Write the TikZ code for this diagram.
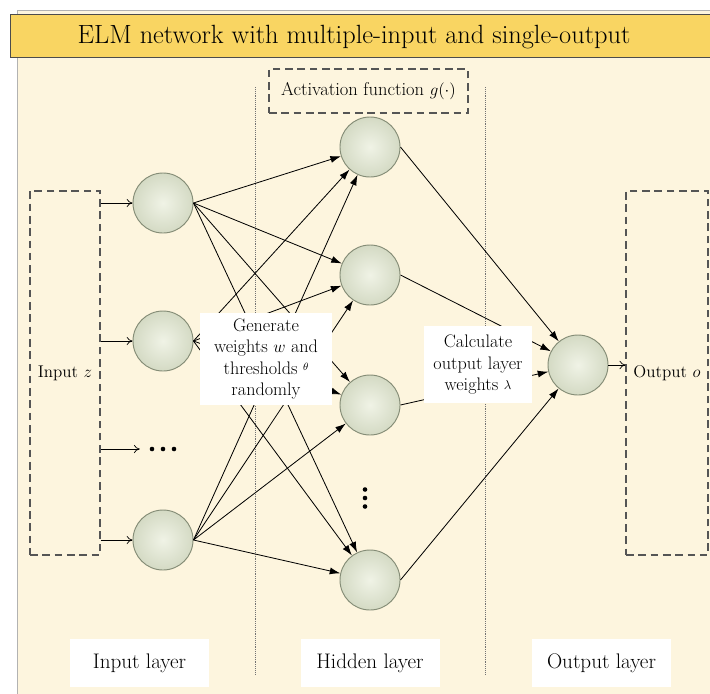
\documentclass[tikz,border=0pt]{standalone}
\usepackage{amsmath}
\usepackage{amssymb}
\usepackage{tikz}
\usetikzlibrary{calc}
\usetikzlibrary{shapes}
\usetikzlibrary{arrows.meta}

\definecolor{panel}{RGB}{253,245,222}
\definecolor{titlebar}{RGB}{249,213,98}
\definecolor{cellin}{RGB}{240,243,230}
\definecolor{cellout}{RGB}{212,218,196}
\definecolor{cellrim}{RGB}{132,140,118}
\definecolor{boxline}{RGB}{85,85,85}

\begin{document}
\begin{tikzpicture}[x=0.03cm, y=-0.03cm,
  neuron/.style = {circle, minimum size=1.8cm, inner sep=0pt, draw=cellrim, line width=0.8pt, shading=radial, inner color=cellin, outer color=cellout},
  dashbox/.style = {draw=boxline, dash pattern=on 6.5pt off 4pt, line width=0.9pt},
  whitebox/.style = {fill=white, align=center, inner sep=0pt, font=\fontsize{15.5}{18.4}\selectfont},
  layerlabel/.style = {fill=white, minimum width=4.17cm, minimum height=1.44cm, font=\fontsize{18}{21}\selectfont},
  wire/.style = {-{Latex[length=9pt,width=6pt]}, line width=0.7pt},
  feed/.style = {-{To[length=5pt,width=7pt]}, line width=0.6pt}]

\useasboundingbox (0,0) rectangle (710,693);

% background and title
\draw[draw=black!30, fill=panel] (17,10) rectangle (716,700);
\draw[fill=titlebar, draw=black!70, line width=0.8pt] (10,14) rectangle (716,57);
\node[name = title, anchor=base, font=\fontsize{22.5}{26}\selectfont] at (354,43) {ELM network with multiple-input and single-output};

\draw[densely dotted, black!55, line width=0.6pt] (255,87) -- (255,675);
\draw[densely dotted, black!55, line width=0.6pt] (485,87) -- (485,675);

\node[name = act, dashbox, minimum width=5.97cm, minimum height=1.32cm, font=\fontsize{15.8}{17}\selectfont] at (368.5,91) {Activation function $g(\cdot)$};
\node[name = inbox, dashbox, minimum width=2.1cm, minimum height=10.92cm, font=\fontsize{14.5}{16}\selectfont] at (65,373) {Input $z$};
\node[name = outbox, dashbox, minimum width=2.46cm, minimum height=10.92cm, font=\fontsize{14.5}{16}\selectfont] at (667,373) {Output $o$};

% neurons
\node[name = in1, neuron] at (163,203) {};
\node[name = in2, neuron] at (163,341) {};
\node[name = indots, minimum width=1.38cm, inner sep=0pt] at (163,449) {};
\node[name = in4, neuron] at (163,540) {};

\node[name = h1, neuron] at (370,147) {};
\node[name = h2, neuron] at (370,275) {};
\node[name = h3, neuron] at (370,405) {};
\coordinate (hdots) at (365,498);
\node[name = h4, neuron] at (370,580) {};

\node[name = out, neuron] at (578,365) {};

\foreach \k in {-1,0,1} \fill ($(indots)+(\k*11,0)$) circle (2.3);
\foreach \k in {-1,0,1} \fill ($(hdots)+(0,\k*8.5)$) circle (2.3);

% connections
\foreach \i in {in1,in2,in4}
  \foreach \h in {h1,h2,h3,h4}
    \draw[wire] (\i.east) -- (\h);
\foreach \h in {h1,h2,h3,h4}
  \draw[wire] (\h.east) -- (out);

\draw[feed] (inbox.east |- in1) -- (in1);
\draw[feed] (inbox.east |- in2) -- (in2);
\draw[feed] (inbox.east |- indots) -- (indots.west);
\draw[feed] (inbox.east |- in4) -- (in4);
\draw[feed] (out) -- (outbox.west |- out);

% text boxes
\node[name = gen, whitebox, minimum width=3.96cm, minimum height=2.76cm] at (266,359) {Generate\\weights $w$ and\\thresholds \raisebox{3pt}{\fontsize{9}{9}\selectfont$\theta$}\\randomly};
\node[name = calcw, whitebox, minimum width=3.24cm, minimum height=2.31cm] at (478,364.5) {Calculate\\output layer\\weights \raisebox{1pt}{\fontsize{11}{11}\selectfont$\lambda$}};

\node[name = lin, layerlabel] at (139.5,663) {Input layer};
\node[name = lhid, layerlabel] at (370,663) {Hidden layer};
\node[name = lout, layerlabel] at (601.5,663) {Output layer};

\end{tikzpicture}
\end{document}
